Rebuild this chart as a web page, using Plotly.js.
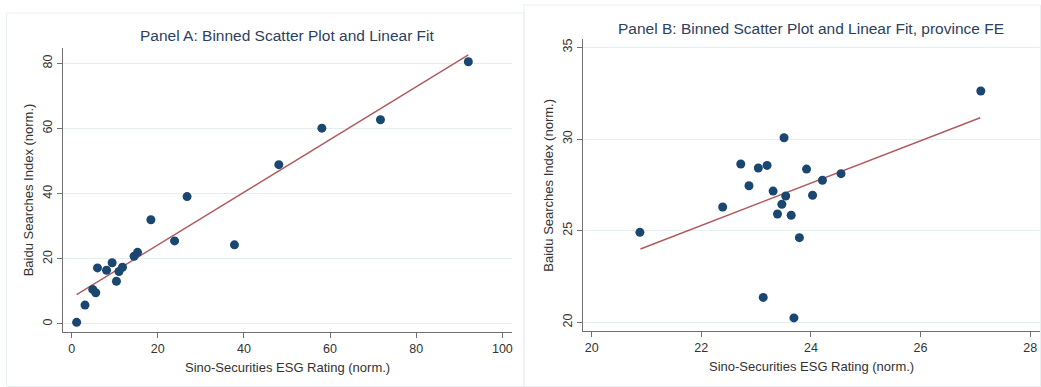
<!DOCTYPE html>
<html>
<head>
<meta charset="utf-8">
<script src="https://cdn.plot.ly/plotly-3.0.1.min.js"></script>
<style>
  html, body { margin: 0; padding: 0; background: #ffffff; }
  #chart { width: 1041px; height: 387px; }
</style>
</head>
<body>
<div id="chart"></div>
<script>
// ---- Panel A data (binned scatter) ----
const panelA_x = [1.16, 3.1, 4.9, 5.6, 6.0, 8.1, 9.4, 10.4, 11.0, 11.8, 14.5, 15.3, 18.4, 23.9, 26.8, 37.8, 48.1, 58.1, 71.7, 92.1];
const panelA_y = [0.5, 5.8, 10.6, 9.6, 17.2, 16.5, 18.8, 13.1, 16.1, 17.4, 20.8, 22.0, 32.0, 25.5, 39.1, 24.3, 48.9, 60.1, 62.7, 80.5];
const fitA_x = [1.16, 92.1];
const fitA_y = [9.0, 82.6];

// ---- Panel B data (binned scatter, province FE) ----
const panelB_x = [20.88, 22.39, 22.72, 22.87, 23.04, 23.20, 23.13, 23.31, 23.39, 23.47, 23.51, 23.54, 23.64, 23.69, 23.79, 23.92, 24.03, 24.21, 24.55, 27.10];
const panelB_y = [24.91, 26.29, 28.64, 27.45, 28.42, 28.56, 21.36, 27.16, 25.91, 26.44, 30.07, 26.89, 25.84, 20.24, 24.62, 28.36, 26.93, 27.75, 28.11, 32.62];
const fitB_x = [20.89, 27.09];
const fitB_y = [24.0, 31.16];

// ---- Tick labels ----
const ticksA_x = [0, 20, 40, 60, 80, 100];
const ticksA_y = [0, 20, 40, 60, 80];
const ticksB_x = [20, 22, 24, 26, 28];
const ticksB_y = [20, 25, 30, 35];

// ---- Texts ----
const titleA = "Panel A: Binned Scatter Plot and Linear Fit";
const titleB = "Panel B: Binned Scatter Plot and Linear Fit, province FE";
const xTitle = "Sino-Securities ESG Rating (norm.)";
const yTitle = "Baidu Searches Index (norm.)";

const W = 1041, H = 387;
const px = v => v / W;
const py = v => 1 - v / H;

const markerColor = "#1a476f";
const lineColor = "#b05a5e";
const FONT = "Liberation Sans, Arial, sans-serif";

const traces = [
  { x: fitA_x, y: fitA_y, xaxis: "x", yaxis: "y", mode: "lines", type: "scatter",
    line: { color: lineColor, width: 1.4 }, hoverinfo: "skip", showlegend: false },
  { x: panelA_x, y: panelA_y, xaxis: "x", yaxis: "y", mode: "markers", type: "scatter",
    marker: { color: markerColor, size: 9 }, showlegend: false },
  { x: fitB_x, y: fitB_y, xaxis: "x2", yaxis: "y2", mode: "lines", type: "scatter",
    line: { color: lineColor, width: 1.4 }, hoverinfo: "skip", showlegend: false },
  { x: panelB_x, y: panelB_y, xaxis: "x2", yaxis: "y2", mode: "markers", type: "scatter",
    marker: { color: markerColor, size: 9 }, showlegend: false }
];

const tickFont = { family: FONT, size: 12.5, color: "#333333" };
const axisCommon = {
  showline: true, linecolor: "#707070", linewidth: 1,
  ticks: "outside", ticklen: 5, tickcolor: "#707070", tickwidth: 1,
  tickfont: tickFont, zeroline: false, tickmode: "array", fixedrange: true
};

const layout = {
  width: W, height: H,
  margin: { l: 0, r: 0, t: 0, b: 0 },
  paper_bgcolor: "#ffffff", plot_bgcolor: "#ffffff",
  showlegend: false,
  xaxis: Object.assign({}, axisCommon, {
    domain: [px(63.3), px(511.7)], range: [-1.935, 102.17],
    tickvals: ticksA_x, ticktext: ticksA_x.map(String), showgrid: false, anchor: "y"
  }),
  yaxis: Object.assign({}, axisCommon, {
    domain: [py(332.3), py(47.7)], range: [-2.557, 84.81],
    tickvals: ticksA_y, ticktext: ticksA_y.map(String), tickangle: -90,
    showgrid: true, gridcolor: "#e5eeee", gridwidth: 1, anchor: "x"
  }),
  xaxis2: Object.assign({}, axisCommon, {
    domain: [px(582.7), px(1040)], range: [19.836, 28.18],
    tickvals: ticksB_x, ticktext: ticksB_x.map(String), showgrid: false, anchor: "y2"
  }),
  yaxis2: Object.assign({}, axisCommon, {
    domain: [py(331), py(39.3)], range: [19.527, 35.44],
    tickvals: ticksB_y, ticktext: ticksB_y.map(String), tickangle: -90,
    showgrid: true, gridcolor: "#e5eeee", gridwidth: 1, anchor: "x2"
  }),
  shapes: [
    { type: "rect", xref: "paper", yref: "paper", x0: px(6.5), x1: px(524), y0: py(386.5), y1: py(13),
      line: { color: "#e9f0f0", width: 1 }, fillcolor: "rgba(0,0,0,0)", layer: "below" },
    { type: "rect", xref: "paper", yref: "paper", x0: px(524), x1: px(1040.5), y0: py(386.5), y1: py(5),
      line: { color: "#e9f0f0", width: 1 }, fillcolor: "rgba(0,0,0,0)", layer: "below" }
  ],
  annotations: [
    { text: titleA, xref: "paper", yref: "paper", x: px(287.5), y: py(36), xanchor: "center", yanchor: "middle",
      showarrow: false, font: { family: FONT, size: 15.5, color: "#2d3f5e" } },
    { text: titleB, xref: "paper", yref: "paper", x: px(810.5), y: py(28.3), xanchor: "center", yanchor: "middle",
      showarrow: false, font: { family: FONT, size: 15.5, color: "#2d3f5e" } },
    { text: xTitle, xref: "paper", yref: "paper", x: px(287.5), y: py(367.5), xanchor: "center", yanchor: "middle",
      showarrow: false, font: { family: FONT, size: 13, color: "#333333" } },
    { text: xTitle, xref: "paper", yref: "paper", x: px(811), y: py(366.7), xanchor: "center", yanchor: "middle",
      showarrow: false, font: { family: FONT, size: 13, color: "#333333" } },
    { text: yTitle, xref: "paper", yref: "paper", x: px(28.3), y: py(190), xanchor: "center", yanchor: "middle",
      textangle: -90, showarrow: false, font: { family: FONT, size: 13, color: "#333333" } },
    { text: yTitle, xref: "paper", yref: "paper", x: px(547.7), y: py(185), xanchor: "center", yanchor: "middle",
      textangle: -90, showarrow: false, font: { family: FONT, size: 13, color: "#333333" } }
  ]
};

Plotly.newPlot("chart", traces, layout, { displayModeBar: false, staticPlot: true });
</script>
</body>
</html>
